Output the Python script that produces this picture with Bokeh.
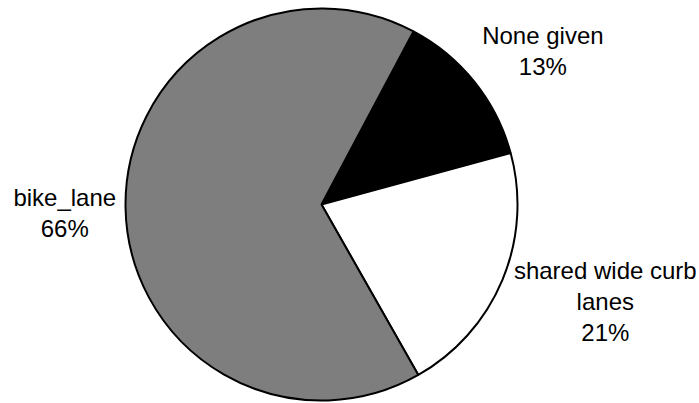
import math
from bokeh.plotting import figure
from bokeh.models import Range1d, ColumnDataSource
from bokeh.core.properties import value
from bokeh.embed import file_html
from bokeh.resources import INLINE

# ---- data (clockwise order, starting at the top-right) ----
categories = ["None given", "shared wide curb lanes", "bike_lane"]
label_lines = ["None given", "shared wide curb\nlanes", "bike_lane"]
percents = [13, 21, 66]

# ---- styles ----
colors = ["#000000", "#ffffff", "#7e7e7e"]
start_from_north = 28.0          # degrees, clockwise from 12 o'clock
W, H = 699, 403
cx, cy = 321, -204               # pie centre (px; y flipped)
R = 196
label_r = 1.06
label_dx = [59, 92, -49]         # fine-tune offsets (px)
label_dy = [-24, 17, 6]

p = figure(width=W, height=H, output_backend="svg", toolbar_location=None,
           x_range=Range1d(0, W), y_range=Range1d(-H, 0),
           x_axis_location=None, y_axis_location=None, min_border=0)
p.grid.visible = False
p.outline_line_color = None
p.background_fill_color = "white"
p.border_fill_color = "white"

total = sum(percents)
starts, ends, lx, ly, texts = [], [], [], [], []
theta = start_from_north
for i, v in enumerate(percents):
    span = 360.0 * v / total
    t0, t1 = theta, theta + span
    starts.append(math.radians(90 - t0))
    ends.append(math.radians(90 - t1))
    mid = math.radians((t0 + t1) / 2)
    lx.append(cx + math.sin(mid) * R * label_r + label_dx[i])
    ly.append(cy + math.cos(mid) * R * label_r - label_dy[i])
    texts.append(f"{label_lines[i]}\n{v}%")
    theta = t1

src = ColumnDataSource(dict(start=starts, end=ends, color=colors,
                            cat=categories, x=[cx] * 3, y=[cy] * 3))
p.wedge(x="x", y="y", radius=R, start_angle="start", end_angle="end",
        direction="clock", fill_color="color", line_color="black",
        line_width=2, source=src)

lsrc = ColumnDataSource(dict(x=lx, y=ly, text=texts))
p.text(x="x", y="y", text="text", source=lsrc,
       text_font=value("Liberation Sans"), text_font_size="24px",
       text_color="black", text_align="center", text_baseline="middle",
       text_line_height=1.15)

open("out.html", "w").write(file_html(p, INLINE))
